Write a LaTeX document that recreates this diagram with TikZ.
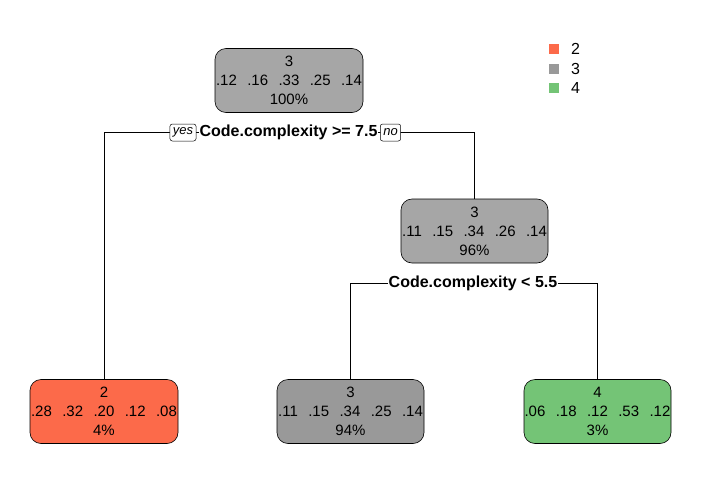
\documentclass[tikz,border=0pt]{standalone}
\usepackage{fontspec}
\setmainfont{Liberation Sans}
\usetikzlibrary{positioning}
\definecolor{redleaf}{RGB}{252,106,74}
\definecolor{greyroot}{RGB}{166,166,166}
\definecolor{greyleaf}{RGB}{153,153,153}
\definecolor{greenleaf}{RGB}{116,196,118}
\newcommand{\probrow}[5]{#1\hspace{10.4pt}#2\hspace{10.4pt}#3\hspace{10.4pt}#4\hspace{10.4pt}#5}
\tikzset{
  treenode/.style={draw=black, line width=0.6pt, rounded corners=11pt,
    minimum width=148pt, minimum height=64pt, inner sep=0pt,
    align=center, font=\fontsize{15}{19}\selectfont},
  splitlabel/.style={fill=white, inner sep=1pt, font=\bfseries\fontsize{16}{18}\selectfont},
  tag/.style={draw=black, fill=white, line width=0.5pt, rounded corners=2.5pt,
    inner xsep=3pt, inner ysep=1.5pt, minimum height=17pt, font=\itshape\fontsize{13}{14}\selectfont},
  branch/.style={draw=black, line width=0.6pt},
  legbox/.style={minimum width=10pt, minimum height=10pt, inner sep=0pt},
  legtext/.style={anchor=west, inner sep=0pt, font=\fontsize{16}{18}\selectfont}
}
\begin{document}
\begin{tikzpicture}[x=1pt, y=-1pt]
\useasboundingbox[fill=white] (0,0) rectangle (702,493);

% tree nodes
\node[treenode, fill=greyroot] (root) at (289,80.5) {3\\\probrow{.12}{.16}{.33}{.25}{.14}\\100\%};
\node[treenode, fill=greyroot, minimum width=147pt] (inner) at (474.5,231) {3\\\probrow{.11}{.15}{.34}{.26}{.14}\\96\%};
\node[treenode, fill=redleaf] (leafA) at (104,411.5) {2\\\probrow{.28}{.32}{.20}{.12}{.08}\\4\%};
\node[treenode, fill=greyleaf, minimum width=147pt] (leafB) at (350.5,411.5) {3\\\probrow{.11}{.15}{.34}{.25}{.14}\\94\%};
\node[treenode, fill=greenleaf, minimum width=147pt] (leafC) at (597.5,411.5) {4\\\probrow{.06}{.18}{.12}{.53}{.12}\\3\%};

% split points
\coordinate (splitA) at (289,132);
\coordinate (splitB) at (474,283);

% branches
\draw[branch] (splitA) -| (leafA.north);
\draw[branch] (splitA) -| (inner.north);
\draw[branch] (splitB) -| (leafB.north);
\draw[branch] (splitB) -| (leafC.north);

% split labels
\node[splitlabel] (labA) at (288.5,132) {Code.complexity >= 7.5};
\node[splitlabel] (labB) at (473,283) {Code.complexity < 5.5};
\node[tag] (yes) at (183,132.5) {yes};
\node[tag] (no) at (390.5,132.5) {no};

% legend
\node[legbox, fill=redleaf] (lg2) at (553.5,49) {};
\node[legbox, fill=greyleaf] (lg3) at (553.5,68.5) {};
\node[legbox, fill=greenleaf] (lg4) at (553.5,88) {};
\node[legtext] (lt2) at (571,49) {2};
\node[legtext] (lt3) at (571,68.5) {3};
\node[legtext] (lt4) at (571,88) {4};
\end{tikzpicture}
\end{document}
